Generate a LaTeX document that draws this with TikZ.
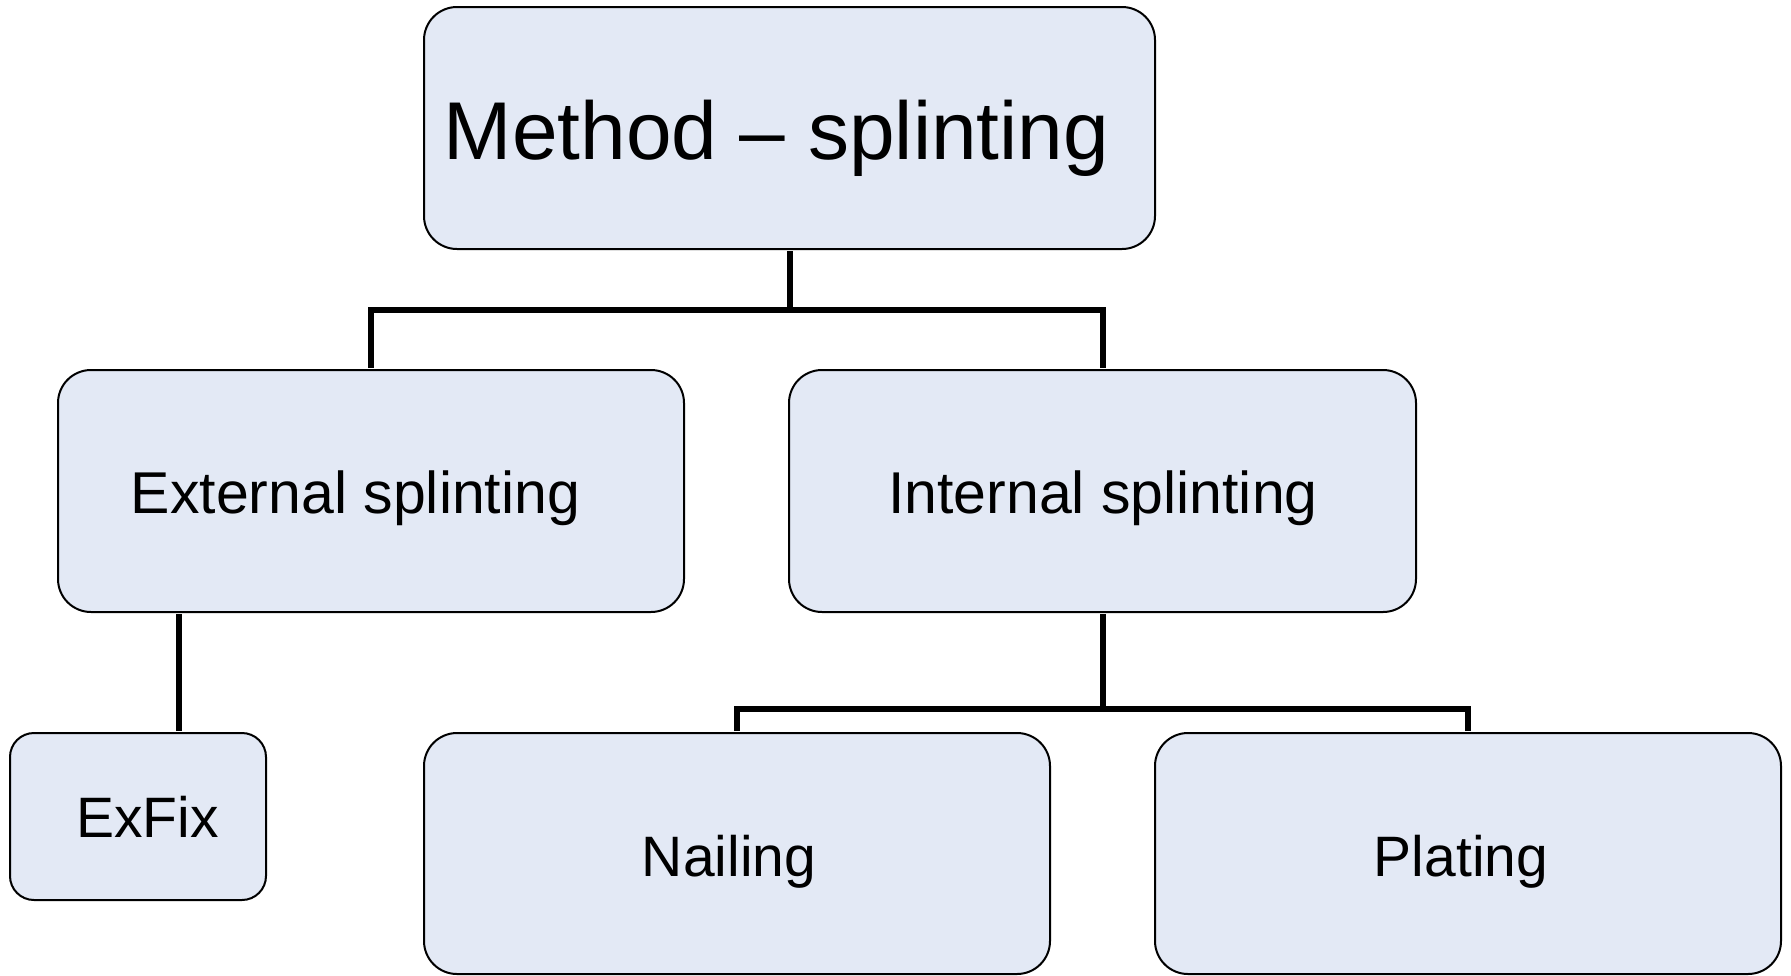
\documentclass[tikz,border=0pt]{standalone}
\usepackage{fontspec}
\setmainfont{Liberation Sans}
\definecolor{boxfill}{RGB}{227,233,245}
\tikzset{
  box/.style={draw=black, line width=2pt, fill=boxfill, rounded corners=33pt, inner sep=0pt},
  smallbox/.style={box, rounded corners=24pt},
  conn/.style={draw=black, line width=6pt},
  bigtxt/.style={anchor=base, inner sep=0pt, font=\fontsize{82pt}{98pt}\selectfont},
  midtxt/.style={anchor=base, inner sep=0pt, font=\fontsize{59pt}{70pt}\selectfont},
  lowtxt/.style={anchor=base, inner sep=0pt, font=\fontsize{57pt}{68pt}\selectfont}
}
\begin{document}
\begin{tikzpicture}[x=1pt,y=-1pt]
\useasboundingbox (0,0) rectangle (1791,975);
% connectors (drawn first, boxes sit on top)
\coordinate (bus1) at (789.5,309.5);
\coordinate (bus2) at (1102.5,709);
\coordinate (exl) at (179.3,0);
% boxes
\node[box, minimum width=731pt, minimum height=242pt] (top) at (789.5,128) {};
\node[box, minimum width=626pt, minimum height=242pt] (ext) at (371,491) {};
\node[box, minimum width=627pt, minimum height=242pt] (int) at (1102.5,491) {};
\node[smallbox, minimum width=256pt, minimum height=167pt] (exfix) at (138,816.5) {};
\node[box, minimum width=626pt, minimum height=241pt] (nail) at (737,853.5) {};
\node[box, minimum width=626pt, minimum height=241pt] (plate) at (1468,853.5) {};
% texts
\node[bigtxt] (ttop) at (776.5,159) {Method – splinting};
\node[midtxt] (text) at (355.5,513) {External splinting};
\node[midtxt] (tint) at (1103,513) {Internal splinting};
\node[lowtxt] (texfix) at (147.5,837) {ExFix};
\node[lowtxt] (tnail) at (729,876) {Nailing};
\node[lowtxt] (tplate) at (1461,876) {Plating};
% connectors
\draw[conn] ([yshift=-1pt]top.south) -- (bus1);
\draw[conn] ([yshift=1pt]ext.north) |- (bus1) -| ([yshift=1pt]int.north);
\draw[conn] ([yshift=-1pt]int.south) -- (bus2);
\draw[conn] ([yshift=1pt]nail.north) |- (bus2) -| ([yshift=1pt]plate.north);
\draw[conn] ([yshift=-1pt]ext.south -| exl) -- ([yshift=1pt]exfix.north -| exl);
\end{tikzpicture}
\end{document}
